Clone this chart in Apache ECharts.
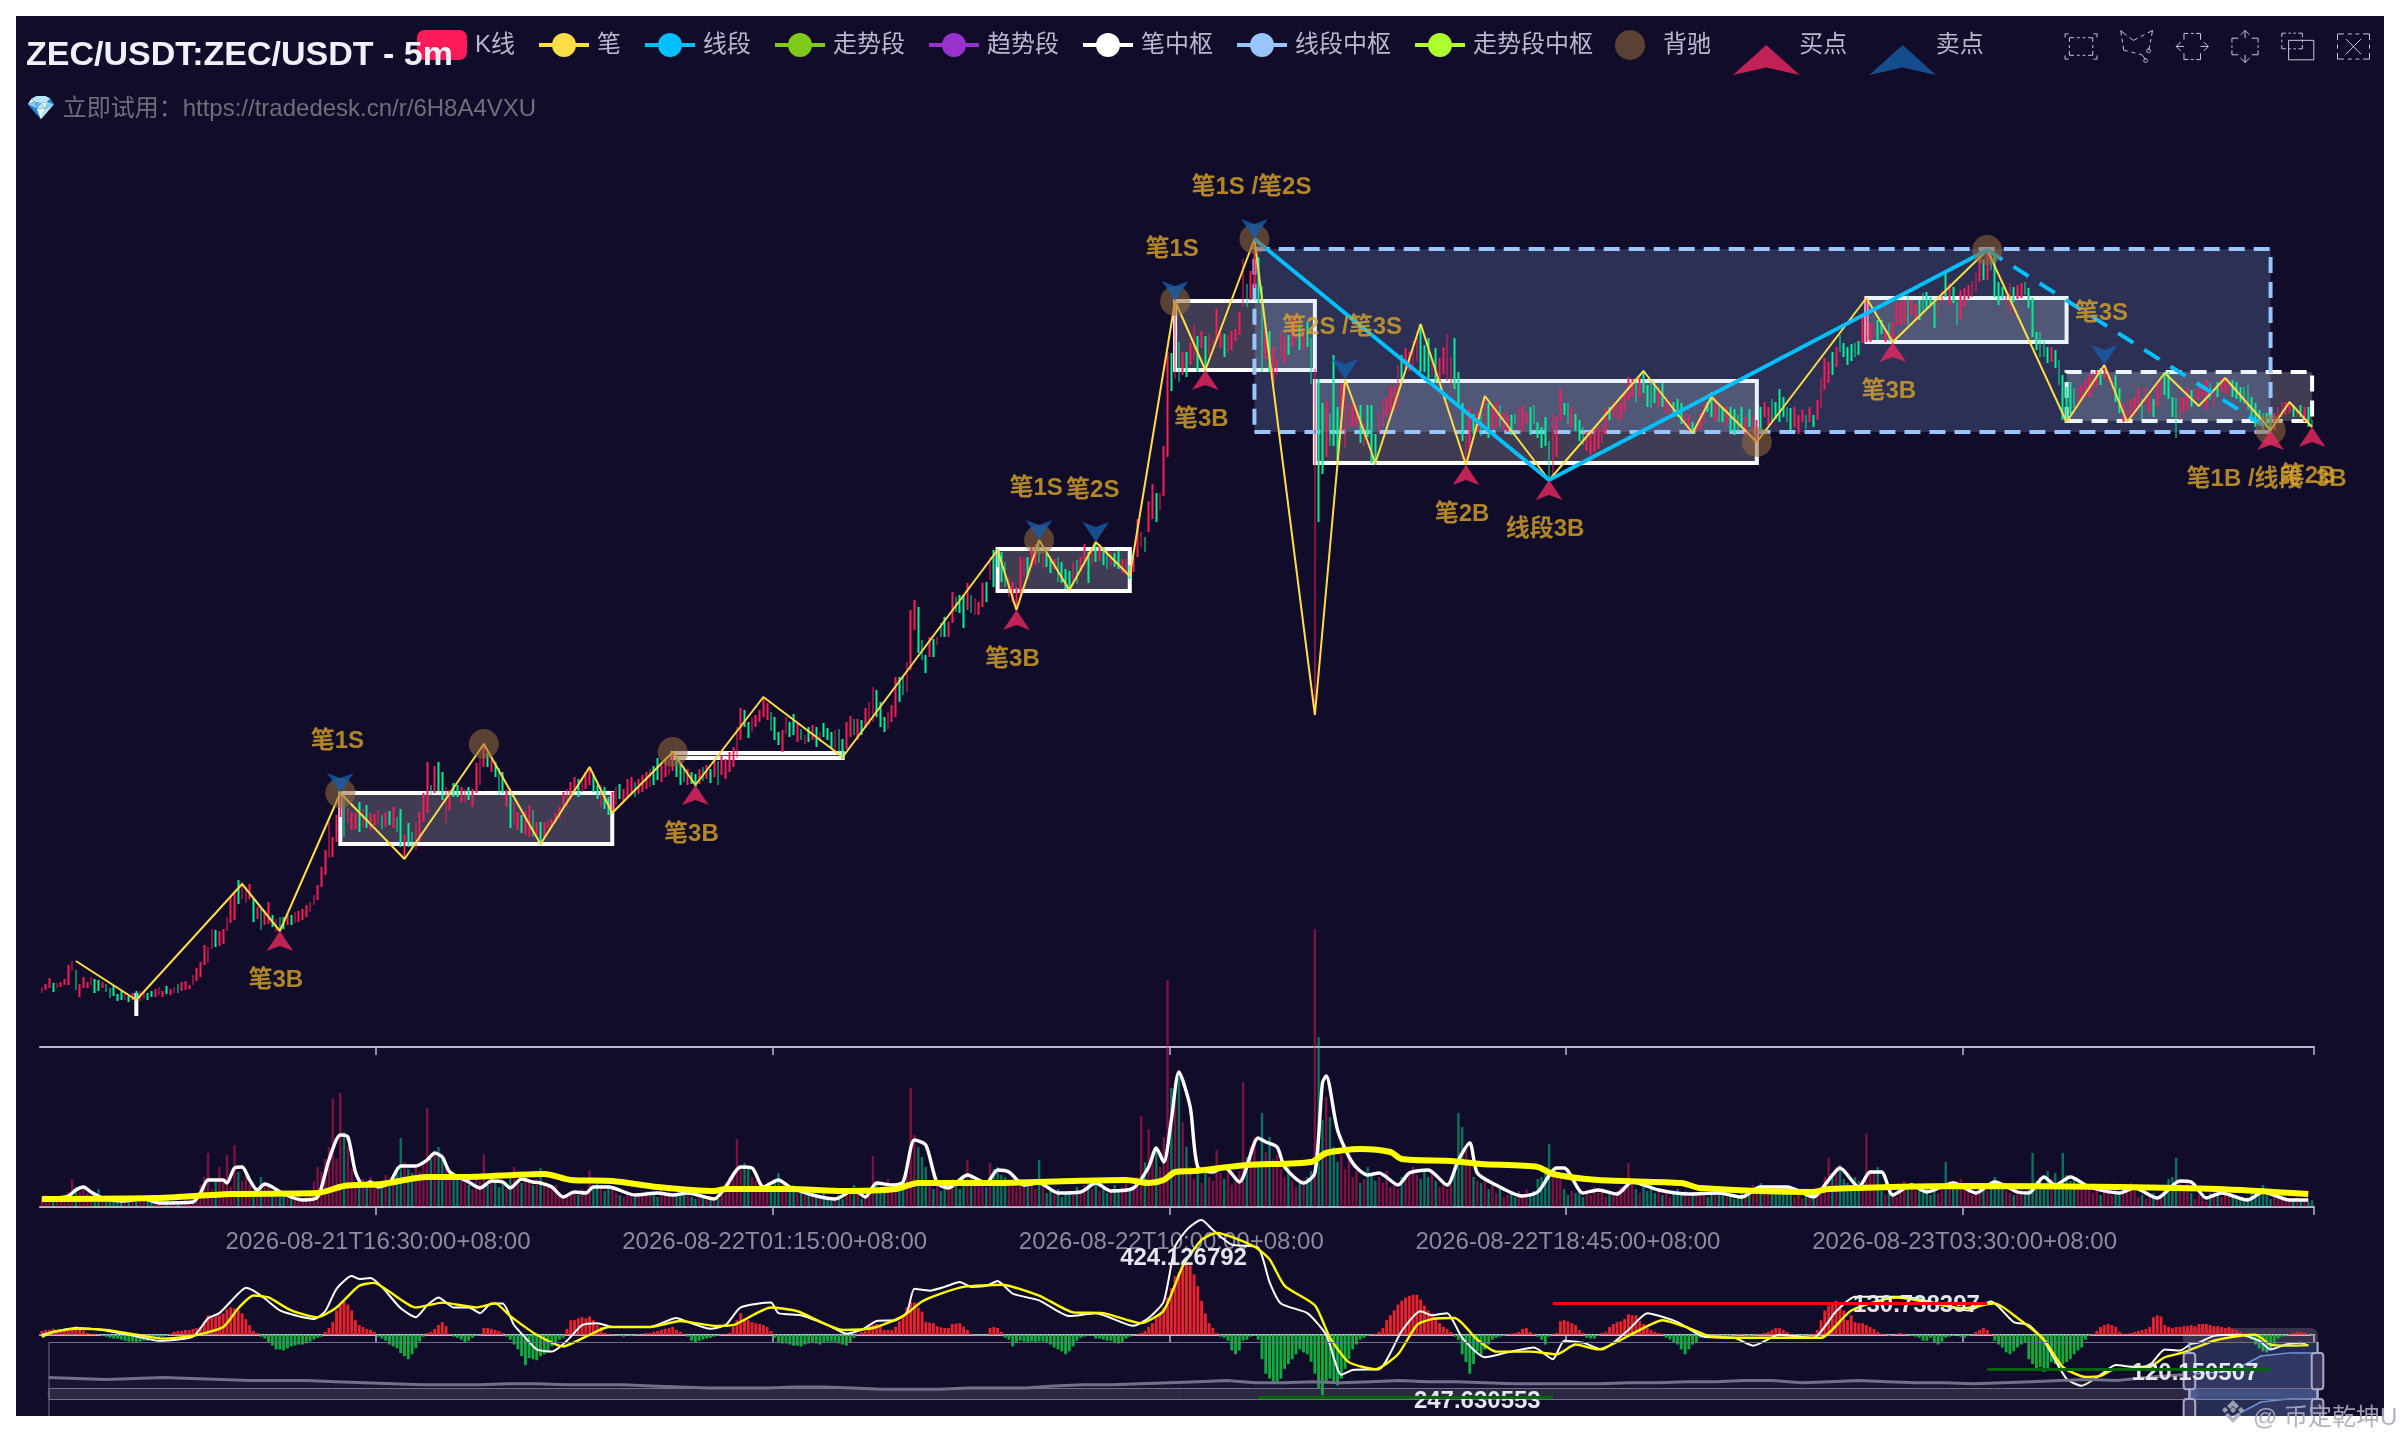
<!DOCTYPE html>
<html><head><meta charset="utf-8"><title>ZEC/USDT</title>
<script src="https://cdn.jsdelivr.net/npm/echarts@6/dist/echarts.min.js"></script>
<style>
html,body{margin:0;padding:0;background:#fff;width:2400px;height:1440px;overflow:hidden}
#c{position:absolute;left:16px;top:16px;width:2368px;height:1400px}
#wm{position:absolute;left:2219px;top:1396px;height:36px;display:flex;align-items:center;color:rgba(170,170,188,.9);font:24px "Liberation Sans","Noto Sans CJK SC",sans-serif;white-space:nowrap}
#wm svg{margin-right:6px}
</style></head><body>
<div id="c"></div>
<div id="wm"><svg width="28" height="30" viewBox="0 0 28 30"><g fill="rgba(170,170,188,.9)"><path d="M14 1l6 6-3 3-3-3-3 3-3-3z"/><path d="M3 11l3-3 3 3-3 3z"/><path d="M25 11l-3-3-3 3 3 3z"/><path d="M14 8l3 3-3 3-3-3z"/><path d="M6 16l3-2 5 5 5-5 3 2-8 8z"/></g></svg>@ 币定乾坤U</div>
<script>
// ---- candles: bar extent (low / high) and direction (price axis in chart units)
const barLow=[
54,57,59,55,59,60,62,62,76,57,50,59,59,62,54,56,59,55,49,51,
46,47,47,45,47,48,46,48,47,50,50,52,50,53,52,54,54,56,57,58,
62,66,70,82,84,98,100,101,103,116,124,127,143,148,144,148,125,128,117,122,
123,120,115,116,118,122,122,124,125,127,130,135,142,147,160,172,189,190,205,230,
210,224,217,218,215,220,219,217,222,224,218,220,222,219,215,200,189,200,197,197,
205,225,234,252,254,256,247,224,237,250,250,245,244,247,240,254,262,280,280,275,
270,252,254,240,219,222,217,214,212,210,210,212,202,210,218,219,224,229,239,240,
247,255,250,255,258,262,255,248,240,238,232,234,242,248,245,250,252,250,253,255,
258,260,262,267,265,270,272,276,270,262,265,262,263,260,263,266,268,264,270,262,
272,268,275,280,289,307,320,309,315,320,325,330,327,316,307,302,295,313,310,312,
305,307,303,305,307,300,305,310,307,298,298,295,288,298,310,312,307,312,319,322,
325,330,320,315,318,325,330,345,352,355,377,417,394,387,374,390,390,402,410,410,
410,424,435,434,419,437,434,432,432,440,445,467,460,480,465,460,450,445,437,450,
470,470,480,482,484,478,480,474,478,465,464,458,457,465,463,475,482,464,482,485,
486,482,478,480,480,478,474,472,468,475,490,500,495,515,528,525,537,551,590,656,
668,665,672,670,682,687,675,699,677,692,698,706,699,690,694,697,706,712,740,740,
747,759,744,675,688,675,664,672,690,684,692,700,706,697,698,700,663,334,525,573,
590,601,601,585,616,600,620,621,620,604,601,610,584,582,613,620,630,635,637,640,
668,678,676,678,685,675,675,663,670,664,664,673,666,660,658,644,606,582,595,613,
615,611,622,609,618,620,620,617,615,612,623,616,616,623,612,623,609,599,601,567,
571,590,627,632,623,620,616,606,602,596,592,595,598,604,613,627,630,628,627,635,
647,650,645,649,654,640,639,644,640,640,634,627,630,630,623,622,616,613,616,618,
623,635,630,626,625,625,622,615,612,615,620,612,620,605,605,615,630,622,624,628,
625,630,625,617,620,613,625,618,625,620,627,639,657,664,672,680,695,690,682,686,
690,692,704,705,705,710,707,713,705,705,705,722,722,723,722,732,725,727,735,739,
742,719,730,744,750,742,744,722,727,740,748,750,755,765,767,767,777,750,742,748,
740,732,745,748,749,752,739,710,697,690,690,684,685,679,662,627,625,633,639,640,
645,650,650,655,660,662,668,665,657,645,634,625,625,630,632,640,628,640,635,630,
640,650,652,648,630,609,627,635,637,640,643,647,650,638,647,640,650,655,654,652,
650,648,645,643,637,625,620,622,617,620,614,617,624,630,632,634,630,630,630,625,620,620];
const barHigh=[
60,63,69,64,64,65,68,82,86,77,63,70,65,70,68,67,65,63,59,62,
53,56,55,51,54,56,56,55,54,56,58,60,56,61,58,60,63,65,66,62,
72,79,85,102,100,118,117,116,118,130,150,156,167,165,160,163,148,140,138,136,
145,132,128,130,130,133,132,135,136,138,142,145,152,162,180,197,225,210,232,254,
252,239,235,234,245,238,242,234,233,237,232,235,236,240,230,238,212,224,215,225,
235,254,285,262,281,285,275,260,257,264,262,260,258,260,258,284,290,304,294,290,
285,279,275,257,252,245,235,232,236,242,237,225,225,225,227,228,234,240,255,258,
265,270,268,270,275,280,272,262,262,260,250,255,260,263,258,268,270,265,268,272,
275,278,281,289,282,287,290,295,288,285,280,278,275,273,278,280,282,278,287,286,
292,288,295,300,320,339,337,325,330,332,337,350,344,335,330,315,317,330,325,333,
323,318,312,320,322,320,315,324,319,315,317,318,308,325,331,328,328,327,339,345,
360,357,345,330,335,342,370,370,372,385,437,447,440,407,392,410,408,410,424,430,
425,455,450,452,452,464,452,449,445,464,465,490,497,498,495,485,470,465,460,490,
490,490,500,503,507,492,497,488,488,490,485,478,476,485,487,490,503,495,500,505,
503,500,496,495,494,496,488,488,482,489,528,515,510,546,563,554,554,601,695,694,
746,705,695,695,704,723,711,716,711,713,708,738,714,713,712,716,718,735,788,763,
776,807,790,761,720,716,700,690,716,710,712,730,735,720,718,725,709,678,668,644,
646,633,692,640,664,668,644,644,640,642,623,642,642,613,635,647,650,661,661,682,
692,699,695,706,716,723,702,709,690,699,689,700,713,690,709,675,644,613,640,633,
635,637,650,644,640,645,642,635,632,632,633,640,642,635,640,642,625,620,630,606,
633,630,658,644,644,640,633,627,620,615,616,618,620,623,639,640,645,644,645,655,
670,668,665,670,677,662,668,664,660,664,650,647,645,648,644,635,632,625,625,634,
644,645,655,650,642,640,640,640,638,632,640,630,638,632,627,640,645,640,648,645,
658,650,640,639,640,632,637,632,640,632,647,669,689,685,695,700,712,704,700,703,
704,706,730,749,724,725,727,727,717,724,725,745,745,747,752,747,743,747,754,755,
750,744,745,757,775,764,760,745,757,759,762,766,774,790,787,797,793,790,765,760,
757,764,760,762,764,765,759,749,715,715,708,700,700,697,687,672,660,665,659,660,
662,668,673,675,677,679,682,677,672,672,659,644,637,647,650,660,648,660,650,648,
665,670,675,675,650,649,650,650,659,657,658,659,662,667,664,657,665,669,669,667,
667,665,660,660,662,650,644,637,634,634,634,634,640,645,645,645,642,640,642,640,640,627];
const barDir=["uuuduuuuuduuuudduddd","ddududuudduuuduuduuu","uuuuuuduuuuuduuududu","ududduduuuuuuuuuuuuu",
"duuududuuu"+"dududduddu","uuududduud"+"duuduuuudu","ddduduuduu"+"duduuuuuuu","uuduuuddud"+"duuduuuduu",
"uudduuuudd"+"duddududud","uuuuuudduu"+"uuuddduudd","ududududdd"+"udduududuu","uddduuuddu"+"uudddududd",
"uuddduduuu"+"dudddduuuu","uduududdud"+"ddduduudud","uddudduudu"+"uuduuduuud","ududuududu"+"uuuduuuuud",
"uudduduuuu"+"duududdudd","uddduuuuud"+"uddduuuuuu","duuuudddud"+"uuuuddduud","ududuuduud"+"duuudddddd",
"uuuddudddu"+"uuuuuduuuu","uududdddud"+"uuddduuduu","uddudduddd"+"duduuduudd","dddduuudud"+"uuuududddd",
"dduuuuddud"+"uuuuduuddd","dduududduu"+"uuuududddd","uuduuddddd"+"dduddddddu","uuuuuduuud"+"duuuuuduud",
"uudddduuud"+"uuuududuuu","ddddddddddd"+"uuuuudududd"].join('');
// ---- volume per bar
const volume=[
8,12,6,10,9,7,12,15,28,20,16,22,14,9,12,18,10,8,10,7,
6,9,8,5,7,9,6,8,5,7,6,4,5,7,5,6,4,5,7,6,
8,14,22,30,54,18,25,40,28,52,20,62,35,26,38,22,15,18,30,24,
20,14,12,10,16,9,11,8,12,9,10,14,25,40,35,48,60,109,48,114,
75,60,38,25,20,28,24,30,22,18,25,32,26,28,40,69,45,38,34,42,
36,45,99,48,52,60,50,40,30,34,28,26,24,22,18,32,26,53,22,28,
24,20,26,18,30,40,28,24,30,26,22,28,39,24,20,18,22,15,12,10,
14,16,12,18,16,37,20,24,18,16,22,18,14,12,10,16,12,10,14,12,
16,12,14,10,18,12,16,10,14,12,18,14,10,8,12,9,7,10,6,8,
16,24,30,35,68,40,44,38,30,26,24,18,22,16,28,34,24,20,18,22,
14,16,12,18,10,12,8,14,10,6,9,12,8,14,18,22,14,8,12,16,
51,24,18,20,28,16,24,22,30,45,119,72,60,50,40,24,18,22,16,24,
20,28,24,18,32,47,30,22,28,24,20,44,38,40,32,30,26,24,20,28,
22,20,26,18,47,24,14,16,12,18,10,14,16,12,20,14,22,26,18,28,
16,20,14,18,22,16,20,24,18,22,30,91,45,78,55,60,40,70,227,119,
110,130,85,60,40,28,36,24,40,30,26,57,34,28,40,22,30,36,125,50,
60,70,45,94,55,70,48,52,38,30,44,26,20,24,28,30,36,278,170,87,
110,90,60,45,52,38,48,30,36,24,28,40,32,26,30,24,36,20,24,18,
30,28,36,40,32,28,38,30,34,26,20,24,18,22,40,94,80,60,44,30,
26,24,30,18,22,14,18,10,12,14,10,16,12,18,14,16,28,30,40,63,
36,34,28,18,12,16,14,18,10,16,12,20,14,16,10,14,12,16,20,22,
44,26,18,14,20,16,22,14,18,12,16,10,14,18,12,16,10,14,12,16,
14,10,16,12,18,14,10,12,8,10,14,18,16,22,20,24,18,22,16,20,
14,22,18,12,10,14,8,12,10,16,14,20,30,49,34,40,42,28,24,18,
30,26,22,73,34,36,40,16,12,18,14,10,22,26,20,24,16,18,14,20,
12,16,14,18,45,20,26,22,28,20,16,12,14,18,24,16,26,30,22,18,
16,14,12,16,18,14,20,54,26,30,24,36,28,34,24,54,32,26,30,20,
24,18,22,14,18,12,16,14,12,18,14,20,16,24,18,10,12,8,10,14,
8,12,22,28,30,49,26,20,24,14,8,12,10,6,14,16,12,10,18,14,
10,12,8,6,10,14,18,16,22,12,8,14,12,18,10,6,8,10,6,8,5,7];
const volFast=[[0,8],[4,9],[7,11],[9,17],[11,20],[13,15],[16,9],[21,6],[27,8],[31,4],[40,5],[42,14],[44,27],[48,27],[49,24],[51,39],[53,40],[55,27],[57,17],[59,23],[61,20],[64,13],[69,7],[73,10],[76,47],[79,72],[81,70],[83,35],[85,22],[87,25],[89,20],[92,24],[95,41],[99,41],[102,47],[104,54],[106,50],[108,35],[113,25],[116,19],[119,26],[122,25],[124,19],[127,28],[130,25],[132,24],[135,20],[138,10],[141,15],[144,14],[146,20],[150,20],[157,12],[163,14],[167,12],[171,14],[178,8],[181,20],[185,40],[188,39],[191,20],[195,27],[198,20],[204,12],[210,8],[215,17],[218,10],[221,24],[225,22],[228,25],[231,67],[234,62],[237,24],[240,19],[245,32],[250,24],[253,37],[256,35],[260,22],[264,24],[269,14],[275,15],[279,24],[283,16],[289,19],[293,40],[295,59],[297,45],[299,87],[301,135],[304,100],[306,40],[310,35],[313,40],[317,25],[322,69],[324,65],[327,60],[329,40],[334,24],[337,34],[339,124],[340,131],[343,77],[347,44],[351,32],[354,34],[359,22],[362,34],[367,37],[372,22],[375,47],[378,64],[380,34],[385,22],[392,11],[396,15],[401,39],[403,39],[408,14],[412,17],[417,13],[421,25],[428,17],[436,13],[444,14],[450,10],[455,20],[462,20],[469,10],[473,27],[476,39],[481,20],[484,35],[487,35],[490,12],[495,22],[499,15],[506,24],[512,14],[517,25],[523,15],[526,14],[530,30],[533,22],[537,30],[542,20],[550,14],[554,19],[560,9],[566,26],[569,25],[573,9],[577,14],[584,7],[588,15],[595,7],[600,7]];
const volSlow=[[0,8],[30,9],[50,13],[73,14],[80,21],[90,23],[102,30],[111,30],[133,33],[140,27],[151,26],[163,20],[178,16],[181,18],[198,18],[212,16],[226,18],[232,24],[252,24],[273,26],[287,27],[293,24],[297,27],[300,35],[305,36],[319,42],[336,45],[340,54],[349,58],[357,55],[360,48],[373,46],[381,43],[396,40],[400,33],[412,27],[434,24],[439,19],[469,15],[473,18],[509,21],[550,20],[576,18],[600,13]];
// ---- MACD
const macdHist=[
14,18,18,22,18,18,18,18,25,32,25,14,7,4,4,2,-4,-7,-11,-14,
-14,-18,-22,-25,-25,-29,-25,-22,-22,-18,-14,-11,-7,-4,4,11,14,14,18,18,
22,25,29,50,72,65,68,72,79,94,101,97,90,79,58,36,14,7,-7,-14,
-29,-40,-54,-54,-58,-50,-43,-40,-36,-36,-32,-25,-18,-11,-7,11,25,47,90,108,
122,112,90,54,36,29,22,18,11,-7,-14,-22,-36,-43,-50,-68,-79,-90,-72,-50,
-25,-7,7,11,22,36,47,32,4,-7,-11,-18,-29,-22,-11,-4,-2,25,25,22,
18,14,7,-7,-18,-36,-54,-79,-112,-86,-90,-94,-79,-72,-65,-43,-29,-18,-11,22,
54,54,61,65,61,68,54,36,29,7,4,2,-2,-4,-7,-2,-4,-2,2,-2,
7,7,11,14,18,22,25,29,18,11,4,-7,-22,-29,-22,-18,-14,-11,-7,-4,
2,4,7,29,54,79,58,54,47,43,40,36,29,14,-11,-29,-32,-32,-36,-40,
-40,-43,-36,-32,-29,-32,-36,-29,-25,-25,-29,-32,-36,-40,-29,-11,4,11,14,36,
36,40,29,18,18,18,29,50,72,101,122,119,100,86,47,45,43,32,28,25,
25,40,42,43,30,18,4,-2,-2,-2,-2,25,29,25,11,-11,-18,-43,-29,-22,
-25,-29,-25,-29,-25,-25,-29,-36,-47,-54,-61,-72,-61,-43,-22,-11,-7,-4,-4,-14,
-14,-18,-22,-22,-29,-32,-29,-14,-7,-2,2,7,14,29,43,61,79,101,137,173,
216,230,245,259,256,223,180,126,79,43,25,7,-7,-11,-22,-58,-72,-58,-22,-18,
-7,-4,-18,-90,-144,-162,-173,-180,-162,-126,-108,-90,-72,-54,-65,-72,-100,-144,-198,-223,
-180,-162,-180,-187,-162,-126,-90,-54,-36,-18,-11,-4,2,4,11,25,54,72,90,112,
126,137,144,148,148,130,108,90,79,65,43,29,22,11,-7,-18,-72,-101,-144,-108,
-61,-72,-54,-36,-18,-11,-7,-4,2,4,7,11,22,25,11,4,-7,-18,-36,-7,
4,7,50,54,50,43,36,18,7,-11,-14,-14,-4,7,11,29,40,47,50,58,
76,72,72,50,40,25,18,11,7,4,-11,-18,-29,-36,-54,-72,-54,-36,-29,-11,
-7,-4,-2,2,-2,-4,-7,-4,-2,4,2,-2,-4,-2,4,2,7,11,18,25,
25,18,11,4,2,-2,-4,-2,2,4,18,54,90,108,119,126,108,90,54,72,
47,43,43,36,29,22,11,4,2,-4,-2,4,7,4,-2,-4,-7,-11,-22,-22,
-11,-29,-36,-25,-11,-7,-4,-2,-7,-11,-4,-2,11,18,25,18,4,-22,-36,-47,
-65,-72,-61,-47,-36,-29,-90,-108,-126,-119,-137,-126,-101,-108,-122,-108,-101,-90,-72,-58,
-47,-18,-4,4,14,29,36,40,36,29,11,4,4,7,11,14,18,22,29,65,
72,68,36,29,25,29,29,32,32,36,32,40,40,40,36,32,32,29,25,29,
22,18,11,7,-11,-18,-36,-50,-61,-65,-54,-36,-14,-7,-4,4,7,11,11,7,4,-4];
const macdDif=[[0,0],[9,25],[16,18],[24,-3],[31,-22],[40,-7],[44,61],[47,80],[50,123],[54,174],[56,163],[59,134],[63,90],[67,72],[72,58],[75,87],[78,170],[82,217],[84,206],[87,210],[90,177],[95,98],[99,65],[102,109],[105,138],[109,101],[113,101],[116,80],[119,116],[122,116],[125,36],[128,-11],[131,-54],[135,-62],[139,-22],[143,36],[147,43],[151,29],[161,29],[168,62],[171,47],[177,22],[181,36],[185,101],[193,119],[195,80],[201,72],[208,36],[213,4],[217,18],[221,51],[226,54],[229,83],[231,170],[235,163],[239,177],[243,195],[246,177],[250,181],[253,199],[257,152],[264,127],[272,69],[279,80],[289,33],[293,62],[297,123],[300,326],[303,387],[306,420],[307,424],[310,387],[315,333],[322,322],[325,195],[328,116],[335,80],[340,0],[344,-148],[347,-130],[354,-127],[360,14],[365,87],[368,72],[372,80],[376,-11],[382,-83],[388,-65],[395,-47],[400,-90],[403,-22],[408,-29],[413,-54],[420,18],[425,80],[433,47],[440,-7],[448,-11],[453,-40],[460,0],[469,-11],[475,87],[480,141],[493,141],[510,90],[516,123],[522,47],[526,36],[530,-22],[536,-163],[540,-188],[545,-148],[549,-112],[554,-119],[558,-112],[562,-54],[566,-58],[569,-33],[571,-29],[575,-4],[582,0],[587,-22],[590,-54],[594,-36],[598,-29],[600,-40]];
const macdDea=[[0,-8],[3,11],[9,22],[17,18],[25,0],[32,-14],[40,-4],[48,29],[52,98],[56,145],[60,138],[66,90],[73,65],[78,101],[84,181],[88,192],[92,159],[99,101],[106,119],[115,101],[120,116],[124,69],[131,0],[138,-43],[144,-7],[150,29],[161,29],[169,51],[178,33],[183,36],[193,101],[200,87],[212,18],[220,25],[228,69],[233,123],[238,152],[244,177],[254,185],[264,145],[273,83],[281,80],[291,43],[297,90],[302,253],[307,351],[311,376],[321,326],[325,279],[329,181],[337,109],[341,-11],[346,-101],[353,-127],[359,-72],[364,36],[368,58],[374,62],[380,-18],[385,-62],[394,-62],[401,-72],[406,-36],[412,-54],[422,11],[429,54],[436,25],[442,-7],[452,-11],[460,-11],[471,-11],[479,90],[491,138],[509,98],[517,116],[523,62],[530,-18],[535,-119],[541,-156],[545,-152],[548,-130],[552,-127],[558,-119],[562,-83],[567,-65],[575,-22],[582,-4],[586,0],[590,-36],[595,-40],[600,-38]];
// ---- chan structures
const pen=[[9,86],[25,47],[53,163],[63,116],[79,254],[96,188],[117,303],[132,203],[145,280],[151,234],[167,295],[173,262],[191,350],[212,290],[253,497],[258,437],[264,507],[272,457],[279,505],[288,471],[300,746],[308,677],[321,808],[337,332],[345,668],[353,584],[365,723],[377,582],[382,651],[399,567],[424,676],[437,614],[442,650],[454,605],[483,749],[490,705],[515,797],[536,625],[546,682],[552,625],[562,674],[571,641],[578,669],[590,617],[595,645],[601,620]];
const segSolid=[[321,808],[399,567],[515,797]];
const segDashed=[[515,797],[590,617]];
const penZones=[[79,151,254,203],[167,212,294,289],[253,288,498,456],[300,337,746,677],[337,454,666,584],[483,536,749,705],[25,25,54,31]];
const penZonesDashed=[[536,601,675,626]];
const segZones=[[321,590,798,615]];
const divergence=[[79,254],[117,303],[167,295],[264,507],[300,746],[321,808],[454,605],[515,797],[590,617]];
const buyPoints=[[63,116],[173,262],[258,437],[308,677],[377,582],[399,567],[490,705],[590,617],[601,620]];
const buyTexts=["笔3B","笔3B","笔3B","笔3B","笔2B","线段3B","笔3B","笔1B /线段  3B","笔2B"];
const sellPoints=[[79,254],[264,507],[279,505],[300,746],[321,808],[345,668],[546,682]];
const sellTexts=["笔1S","笔1S","笔2S","笔1S","笔1S /笔2S","笔2S /笔3S","笔3S"];
const macdNotes=[[307,424.126792],[496,130.738397],[380,-247.630553],[570,-120.150507]];
const macdNoteTexts=["424.126792","130.738397","247.630553","120.150507"];
const macdNoteOffsets=[[-18,38],[1,6],[0,0],[0,6]];
const macdRedLine=[[400,116],[515,116]];
const macdGreenLines=[[[322,-232],[400,-232]],[[515,-127],[590,-127]]];
const sliderHistory=[20,19,18,19,20,19,18,17,17,17,16,15,14,13,13,13,14,14,13,13,13,12,11,10,10,10,11,11,10,9,9,9,10,10,10,12,13,13,14,15,16,17,15,15,16,15,16,17,16,16,15,14,14,14,14,15,15,16,16,17,17,15,16,17,16,15,15,14,15,16,17,18,17,20,22,24,26,40,43,43];

const barCount=barLow.length;
const pad=n=>String(n).padStart(2,'0');
const categories=[];
for(let i=0;i<barCount;i++){
  const d=new Date(Date.UTC(2026,7,21,9,5)+i*300000);
  categories.push(`${d.getUTCFullYear()}-${pad(d.getUTCMonth()+1)}-${pad(d.getUTCDate())}T${pad(d.getUTCHours())}:${pad(d.getUTCMinutes())}:00+08:00`);
}
const tickEvery=i=>i>=89&&(i-89)%105===0;

const UP='#ff1a58',DOWN='#00f096';
const FONT='"Liberation Sans","Noto Sans CJK SC",sans-serif';
const candle=barLow.map((l,i)=>barDir[i]==='d'?[barHigh[i],l,l,barHigh[i]]:[l,barHigh[i],l,barHigh[i]]);
const zoneArea=(list,color,fill,dash)=>list.map(z=>[
 {xAxis:categories[z[0]],yAxis:z[3],itemStyle:{color:fill,borderColor:color,borderWidth:4,borderType:dash,borderCap:'butt'}},
 {xAxis:categories[z[1]],yAxis:z[2]}]);
const legendOnly=(name,color)=>({name,type:'line',data:[],symbol:'circle',showSymbol:false,itemStyle:{color},lineStyle:{color}});
const axisStyle={lineStyle:{color:'#B9B8CE',width:2}};
const baseX=(g,extra)=>Object.assign({type:'category',gridIndex:g,data:categories,boundaryGap:true,
  axisLine:axisStyle,axisTick:{show:true,length:8,interval:tickEvery,lineStyle:{color:'#B9B8CE',width:1.5}},axisLabel:{show:false},splitLine:{show:false}},extra||{});
const hiddenY=(g,min,max)=>({type:'value',gridIndex:g,min,max,show:false,splitLine:{show:false}});
const sliderBase=(top,lineWidth,lineOpacity)=>({type:'slider',xAxisIndex:3,left:30,width:2270,top,height:58,start:94.27,end:100,showDetail:false,brushSelect:false,moveHandleSize:0,handleSize:'100%',backgroundColor:'transparent',borderColor:'#71708A',
   fillerColor:'rgba(135,175,274,0.2)',handleStyle:{color:'#37335a',borderColor:'#A7AAC8',borderWidth:2},
   dataBackground:{lineStyle:{color:'#71708A',width:lineWidth,opacity:lineOpacity},areaStyle:{color:'#71708A',opacity:.1}},selectedDataBackground:{lineStyle:{color:'#6C8FCF',width:1.5},areaStyle:{color:'#6C8FCF',opacity:.12}}});

const option={
 backgroundColor:'#100C2A',animation:false,
 title:{text:'ZEC/USDT:ZEC/USDT - 5m',subtext:'💎 立即试用：https://tradedesk.cn/r/6H8A4VXU',left:5,top:18,itemGap:24,z:20,
  textStyle:{color:'#EEF1FA',fontFamily:FONT,fontWeight:'bold',fontSize:34},
  subtextStyle:{color:'#6E7079',fontFamily:FONT,fontSize:24}},
 legend:{left:396,top:9,itemWidth:50,itemHeight:30,itemGap:22,textStyle:{color:'#B9B8CE',fontFamily:FONT,fontSize:24,padding:[0,0,0,3]},lineStyle:{width:4},
  data:['K线','笔','线段','走势段','趋势段','笔中枢','线段中枢','走势段中枢','背驰',{name:'买点',icon:'arrow',symbolRotate:0},{name:'卖点',icon:'arrow',symbolRotate:0}]},
 toolbox:{right:-3,top:-3,itemSize:32,itemGap:18.7,iconStyle:{borderColor:'#C8C7DA'},showTitle:false,
  feature:{brush:{type:['rect','polygon','lineX','lineY','keep','clear']}}},
 brush:{xAxisIndex:'none',toolbox:['rect','polygon','lineX','lineY','keep','clear']},
 grid:[{left:24,width:2274,top:31,height:1000},{left:24,width:2274,top:1031,height:160},{left:24,width:2274,top:1197,height:207},{left:0,top:0,width:1,height:1,show:false}],
 xAxis:[baseX(0),baseX(1,{axisLabel:{show:true,interval:tickEvery,margin:23,color:'#8C8B9E',fontFamily:FONT,fontSize:24,hideOverlap:false}}),baseX(2,{axisLine:Object.assign({onZero:true},axisStyle)}),
  {type:'category',gridIndex:3,data:sliderHistory.map((_,i)=>i),show:false}],
 yAxis:[hiddenY(0,0,1000),hiddenY(1,0,160),hiddenY(2,-300,450),{type:'value',gridIndex:3,show:false,scale:true}],
 dataZoom:[sliderBase(1326,3,1),sliderBase(1372,1,.6)],
 graphic:[
  {type:'rect',z:-1,silent:true,shape:{x:31,y:1372,width:2152,height:12,r:6},style:{fill:'#25213D'}},
  {type:'rect',z:-1,silent:true,shape:{x:2167,y:1312,width:135,height:14,r:[8,8,0,0]},style:{fill:'rgba(255,255,255,.17)'}}],
 series:[
  {name:'K线',type:'candlestick',large:false,xAxisIndex:0,yAxisIndex:0,barWidth:2.2,data:candle,itemStyle:{color:UP,color0:DOWN,borderColor:UP,borderColor0:DOWN,borderWidth:0},z:3},
  {name:'笔',type:'line',xAxisIndex:0,yAxisIndex:0,data:pen,symbol:'circle',showSymbol:false,lineStyle:{color:'#FFDD44',width:2},itemStyle:{color:'#FFDD44'},z:4},
  {name:'线段',type:'line',xAxisIndex:0,yAxisIndex:0,data:segSolid,symbol:'circle',showSymbol:false,lineStyle:{color:'#00BFFF',width:4},itemStyle:{color:'#00BFFF'},z:5},
  {name:'线段',type:'line',xAxisIndex:0,yAxisIndex:0,data:segDashed,symbol:'circle',showSymbol:false,lineStyle:{color:'#00BFFF',width:4,type:[18,13]},itemStyle:{color:'#00BFFF'},z:5},
  legendOnly('走势段','#7FC91A'),legendOnly('趋势段','#9932CC'),
  {name:'笔中枢',type:'line',xAxisIndex:0,yAxisIndex:0,data:[],symbol:'circle',showSymbol:false,itemStyle:{color:'#FFFFFF'},lineStyle:{color:'#FFFFFF'},z:2,
   markArea:{silent:true,data:zoneArea(penZones,'#FFFFFF','rgba(255,255,255,0.2)','solid').concat(zoneArea(penZonesDashed,'#FFFFFF','rgba(255,255,255,0.2)',[16,9]))}},
  {name:'线段中枢',type:'line',xAxisIndex:0,yAxisIndex:0,data:[],symbol:'circle',showSymbol:false,itemStyle:{color:'#99C5FF'},lineStyle:{color:'#99C5FF'},z:1,
   markArea:{silent:true,data:zoneArea(segZones,'#99C5FF','rgba(153,197,255,0.2)',[16,9])}},
  legendOnly('走势段中枢','#ADFF2F'),
  {name:'背驰',type:'scatter',xAxisIndex:0,yAxisIndex:0,data:divergence,symbol:'circle',symbolSize:30,itemStyle:{color:'rgba(150,105,60,0.7)'},z:6},
  {name:'买点',type:'scatter',xAxisIndex:0,yAxisIndex:0,data:buyPoints,symbol:'arrow',symbolSize:20,itemStyle:{color:'rgb(236,40,96)'},z:7,
   label:{show:true,position:'inside',offset:[-4,39],color:'#D9A528',fontFamily:FONT,fontWeight:'bold',fontSize:24,formatter:p=>buyTexts[p.dataIndex]}},
  {name:'卖点',type:'scatter',xAxisIndex:0,yAxisIndex:0,data:sellPoints,symbol:'arrow',symbolSize:20,symbolRotate:180,itemStyle:{color:'rgb(22,92,168)'},z:7,
   label:{show:true,position:'inside',offset:[-3,-42],color:'#D9A528',fontFamily:FONT,fontWeight:'bold',fontSize:24,formatter:p=>sellTexts[p.dataIndex]}},
  {name:'成交量',type:'bar',xAxisIndex:1,yAxisIndex:1,barWidth:2.4,clip:false,data:volume.map((v,i)=>({value:v,itemStyle:{color:barDir[i]==='d'?'rgba(0,240,150,.45)':'rgba(255,26,88,.45)'}}))},
  {name:'MAfast',type:'line',xAxisIndex:1,yAxisIndex:1,clip:false,data:volFast,smooth:.25,showSymbol:false,lineStyle:{color:'#FFFFFF',width:3.4},z:3},
  {name:'MAslow',type:'line',xAxisIndex:1,yAxisIndex:1,clip:false,data:volSlow,smooth:.25,showSymbol:false,lineStyle:{color:'#FFFF00',width:6},z:4},
  {name:'MACD',type:'bar',xAxisIndex:2,yAxisIndex:2,barWidth:2.9,clip:false,data:macdHist.map(v=>({value:v,itemStyle:{color:v>=0?'#E9222C':'#10AB3C'}}))},
  {name:'DIF',type:'line',xAxisIndex:2,yAxisIndex:2,clip:false,data:macdDif,smooth:.2,showSymbol:false,lineStyle:{color:'#FFFFFF',width:2},z:3},
  {name:'DEA',type:'line',xAxisIndex:2,yAxisIndex:2,clip:false,data:macdDea,smooth:.2,showSymbol:false,lineStyle:{color:'#FFFF00',width:2.4},z:3},
  {name:'背离线',type:'line',xAxisIndex:2,yAxisIndex:2,data:[],z:3,markLine:{silent:true,symbol:'none',label:{show:false},data:[
    [{coord:macdRedLine[0],lineStyle:{color:'#FF0000',width:3,type:'solid'}},{coord:macdRedLine[1]}],
    ...macdGreenLines.map(l=>[{coord:l[0],lineStyle:{color:'#006400',width:3,type:'solid'}},{coord:l[1]}])]}},
  {name:'极值',type:'scatter',xAxisIndex:2,yAxisIndex:2,symbol:'circle',symbolSize:1,itemStyle:{color:'transparent',opacity:1},z:4,
   data:macdNotes.map((n,i)=>({value:n,label:{offset:macdNoteOffsets[i]}})),
   label:{show:true,position:'inside',color:'#E6E6EE',fontFamily:FONT,fontWeight:'bold',fontSize:24,formatter:p=>macdNoteTexts[p.dataIndex]}},
  {name:'_history',type:'line',xAxisIndex:3,yAxisIndex:3,data:sliderHistory,showSymbol:false,lineStyle:{opacity:0},silent:true}
 ]};
const chart=echarts.init(document.getElementById('c'),null,{renderer:'canvas'});
chart.setOption(option);
</script></body></html>
